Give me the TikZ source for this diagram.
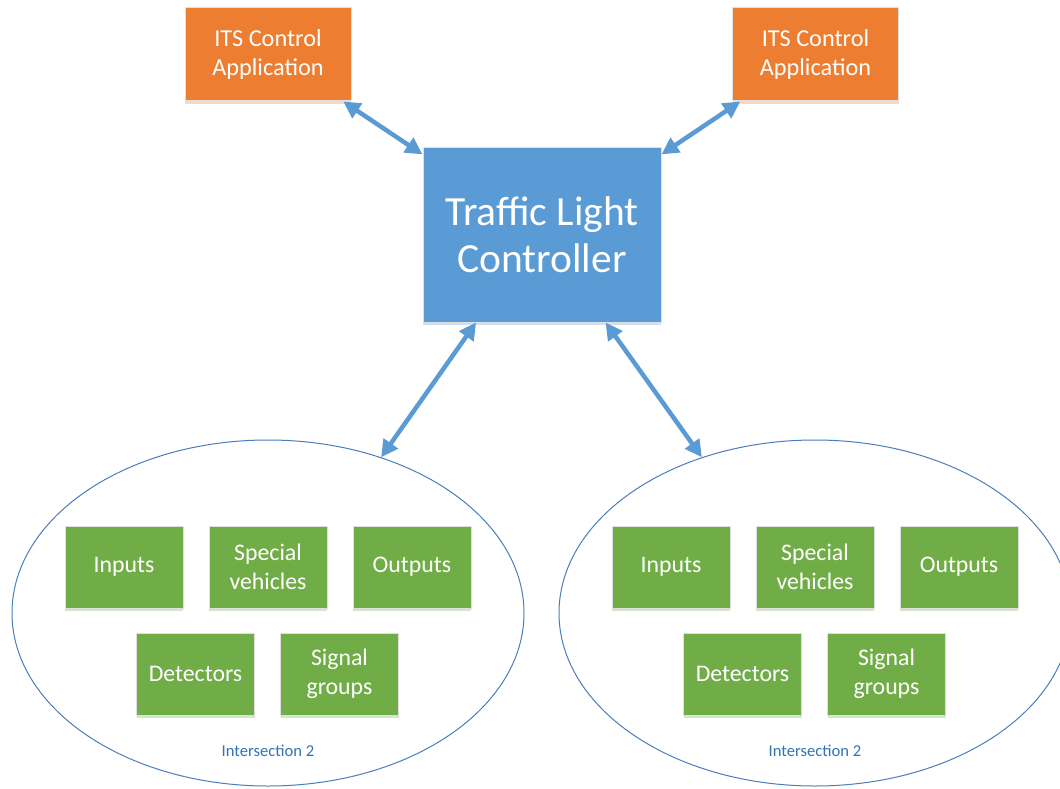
\documentclass[tikz,border=0pt]{standalone}
\usepackage{fontspec}
\setmainfont{Carlito}
\usetikzlibrary{positioning, shapes.geometric, arrows.meta, shadows}

\definecolor{itsorange}{HTML}{ED7D31}
\definecolor{tlcblue}{HTML}{5B9BD5}
\definecolor{grpgreen}{HTML}{70AD47}
\definecolor{ellline}{HTML}{4A7EBB}
\definecolor{captext}{HTML}{2E75B6}

\begin{document}
\begin{tikzpicture}[
x=1pt, y=-1pt,
appnode/.style={rectangle,
  fill=itsorange,
  draw=black!12, line width=1pt,
  minimum width=166pt, minimum height=93pt,
  align=center, text=white,
  font=\fontsize{24.3}{28.5}\selectfont,
  drop shadow={shadow xshift=0pt, shadow yshift=-3pt, fill=itsorange, opacity=0.3}
},
ctrlnode/.style={rectangle,
  fill=tlcblue,
  draw=black!12, line width=1pt,
  minimum width=238pt, minimum height=174pt,
  align=center, text=white,
  font=\fontsize{41.5}{47}\selectfont,
  drop shadow={shadow xshift=0pt, shadow yshift=-3pt, fill=tlcblue, opacity=0.3}
},
grpnode/.style={rectangle,
  fill=grpgreen,
  draw=black!12, line width=1pt,
  minimum width=118pt, minimum height=82pt,
  align=center, text=white,
  font=\fontsize{23.8}{28.5}\selectfont,
  drop shadow={shadow xshift=0pt, shadow yshift=-3pt, fill=grpgreen, opacity=0.3}
},
region/.style={ellipse,
  draw=ellline, line width=1pt,
  minimum width=512pt, minimum height=346pt,
  inner sep=0pt
},
caption/.style={text=captext,
  inner sep=0pt,
  font=\fontsize{16.6}{19}\selectfont
},
link/.style={{Triangle[length=17pt,width=17pt]}-{Triangle[length=17pt,width=17pt]},
  line width=4.5pt, draw=tlcblue
}
]
\path[use as bounding box, fill=white] (0,0) rectangle (1060,789);

\node[ctrlnode] (tlc) at (542,235)
    {Traffic Light\\Controller};
\node[appnode] (appL) at (268,54.5)
    {ITS Control\\Application};
\node[appnode] (appR) at (815.5,54.5)
    {ITS Control\\Application};

% left intersection
\node[region] (isecL) at (268,613) {};
\node[grpnode] (svL) at ([yshift=46pt]isecL.center)
    {Special\\vehicles};
\node[grpnode, left=25pt of svL] (inL)
    {Inputs};
\node[grpnode, right=25pt of svL] (outL)
    {Outputs};
\node[grpnode, below=24pt of inL.south east, xshift=12pt] (detL)
    {Detectors};
\node[grpnode, right=25pt of detL] (sgL)
    {Signal\\groups};
\node[caption, above=30pt of isecL.south] (capL)
    {Intersection 2};

% right intersection
\node[region] (isecR) at (815,613) {};
\node[grpnode] (svR) at ([yshift=46pt]isecR.center)
    {Special\\vehicles};
\node[grpnode, left=25pt of svR] (inR)
    {Inputs};
\node[grpnode, right=25pt of svR] (outR)
    {Outputs};
\node[grpnode, below=24pt of inR.south east, xshift=12pt] (detR)
    {Detectors};
\node[grpnode, right=25pt of detR] (sgR)
    {Signal\\groups};
\node[caption, above=30pt of isecR.south] (capR)
    {Intersection 2};

\draw[link] (appL.-32.5) -- (tlc.146);
\draw[link] (appR.212) -- (tlc.34);
\draw[link] (tlc.233.5) -- (isecL.54);
\draw[link] (tlc.-54) -- (isecR.126);
\end{tikzpicture}
\end{document}
